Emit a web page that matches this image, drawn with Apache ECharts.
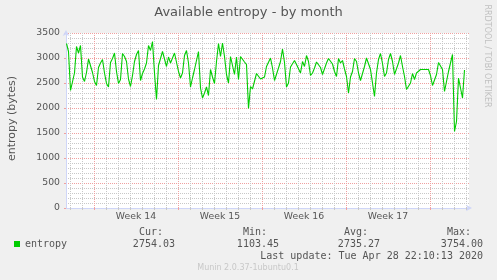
<!DOCTYPE html>
<html><head><meta charset="utf-8">
<script src="https://cdn.jsdelivr.net/npm/echarts@6/dist/echarts.min.js"></script>
<style>html,body{margin:0;padding:0;background:#F0F0F0;}#c{width:497px;height:280px;}</style>
</head><body><div id="c"></div>
<script>
const chartTitle = 'Available entropy - by month';
const yName = 'entropy (bytes)';
const seriesName = 'entropy';
const weekLabels = ['Week 14', 'Week 15', 'Week 16', 'Week 17'];
const weekStarts = [0, 168, 336, 504, 672];        // hours since Mon 30 Mar 00:00
const axisMinHour = -56, axisMaxHour = 750;
const dataStartHour = -55, stepHours = 4;          // one sample every 4 hours
const yMin = 0, yMax = 3500, yStep = 500;
const entropyPart1 = [
 3290,3130,2350,2350,2700,3230,3100,3250,2620,2530,
 2710,2980,2940,2710,2530,2450,2810,2900,2970,2700,
 2490,2420,2910,2990,3100,2730,2490,2570,3090,3030,
 2930,2580,2430,2650,2930,3070,3150,2550,2690,2780,
 2900,3250,3150,3330,2700,2170,2850,2810,3130,3150,
 2830,3020,2900,2930,3100,3140,2730,2600,2700,3050,
 3150,2900,2420,2600,2770,2730,3130,2400,2200,2300,
 2420,2250,2770,2620,2490,2930,3290,3030,3300,3030,
 2670,2500,3030,3020,2670,3020,2570,3030,3070,2920,
 2870,1990
];
const entropyPart2 = [
 2430,2380,2350,2690,2730,2580,2570,2620,2830,2830,
 3000,2800,2550,2510,2800,2930,3180,2910,2420,2500,
 2820,2820,2950,2870,2830,2700,2930,2830,3050,2930,
 2650,2700,2800,2920,2910,2810,2670,2650,2900,2990,
 2980,2880,2730,2630,2990,2900,2950,2780,2630,2300,
 2620,2730,2990,2930,2700,2550,2690,2830,3000,3000,
 2770,2500,2230,2700,2970,3090,2890,2630,2700,2970,
 3090,2930,2670,2630,2900,3050,2830,2630,2370,2370,
 2500,2690,2570,2700,2700,2770,2770,2770,2800,2770,
 2650,2450,2420,2670,2910,2890,2770,2330,2530,2730,
 2900,3070,1530,1730,2600,2600,2200,2760
];
const statLabels = ['Cur:', 'Min:', 'Avg:', 'Max:'];
const statValues = ['2754.03', '1103.45', '2735.27', '3754.00'];
const lastUpdate = 'Last update: Tue Apr 28 22:10:13 2020';
const footer = 'Munin 2.0.37-1ubuntu0.1';
const watermark = 'RRDTOOL / TOBI OETIKER';

const values = entropyPart1.concat(entropyPart2);
const seriesData = values.map((v, i) => [dataStartHour + i * stepHours, v]);
const dayHours = [];
for (let h = -48; h <= axisMaxHour; h += 24) dayHours.push(h);
const weekMid = weekLabels.map((_, i) => weekStarts[i] + 84);

const FONT = '"DejaVu Sans", sans-serif';
const MONO = '"DejaVu Sans Mono", monospace';
const TXT = '#555555';
const AXIS = '#CFD6F8';
const GRAY = '#C8C8C8';
const RED = '#F0A0A0';

const statRight = [175, 279, 380, 483];
const graphics = [];
function txt(x, y, s, font, fill, align, rot) {
  const el = {type: 'text', x: x, y: y,
    style: {text: s, font: font, fill: fill, align: align, verticalAlign: 'middle', textAlign: align, textVerticalAlign: 'middle'}};
  if (rot) el.rotation = rot;
  graphics.push(el);
}
statLabels.forEach((s, i) => {
  txt(statRight[i] - 12, 232.5, s, '10px ' + MONO, TXT, 'right');
  txt(statRight[i], 244.7, statValues[i], '10px ' + MONO, TXT, 'right');
});
txt(483, 256.7, lastUpdate, '10px ' + MONO, TXT, 'right');
txt(248, 268, footer, '8px ' + FONT, '#C8C8C8', 'center');
txt(487, 56, watermark, '8px ' + FONT, '#C0C0C0', 'center', -Math.PI / 2);
txt(12, 118.5, yName, '11px ' + FONT, TXT, 'center', Math.PI / 2);

const chart = echarts.init(document.getElementById('c'), null, {renderer: 'canvas'});
chart.setOption({
  animation: false,
  backgroundColor: '#F0F0F0',
  title: {text: chartTitle, left: 'center', top: 6, padding: 0,
    textStyle: {fontFamily: FONT, fontSize: 13, fontWeight: 'normal', color: TXT, lineHeight: 14}},
  legend: {data: [seriesName], left: 14, top: 239, padding: 0, icon: 'rect', itemWidth: 6, itemHeight: 6,
    textStyle: {fontFamily: MONO, fontSize: 10, color: TXT}},
  grid: {left: 66, right: 28, top: 33, bottom: 72, show: true, backgroundColor: '#FFFFFF', borderWidth: 0},
  xAxis: [
    {type: 'value', position: 'bottom', offset: 0, min: axisMinHour, max: axisMaxHour,
      axisLine: {show: true, onZero: false, lineStyle: {color: AXIS, width: 1}, symbol: ['none', 'arrow'], symbolSize: [5, 6], symbolOffset: [0, 3]},
      axisTick: {show: true, length: 2, customValues: dayHours, lineStyle: {color: GRAY}},
      axisLabel: {show: false},
      splitLine: {show: true, lineStyle: {color: GRAY, width: 1, type: [1, 1]}}},
    {type: 'value', position: 'bottom', offset: 0, min: axisMinHour, max: axisMaxHour,
      axisLine: {show: false, onZero: false},
      axisTick: {show: true, length: 2, customValues: weekStarts, lineStyle: {color: RED}},
      axisLabel: {show: false},
      splitLine: {show: true, lineStyle: {color: RED, width: 1, type: [1, 1]}}},
    {type: 'value', position: 'bottom', offset: 0, min: axisMinHour, max: axisMaxHour,
      axisLine: {show: false, onZero: false},
      axisTick: {show: false, customValues: weekMid},
      axisLabel: {show: true, customValues: weekMid, margin: 4, color: TXT, fontFamily: FONT, fontSize: 9.3,
        formatter: (v) => weekLabels[weekMid.indexOf(v)] || ''},
      splitLine: {show: false}}
  ],
  yAxis: {type: 'value', position: 'left', min: yMin, max: yMax, interval: yStep,
    axisLine: {show: true, onZero: false, lineStyle: {color: AXIS, width: 1}, symbol: ['none', 'arrow'], symbolSize: [5, 6], symbolOffset: [0, 3]},
    axisTick: {show: true, length: 2, lineStyle: {color: RED}},
    minorTick: {show: false, splitNumber: 5},
    axisLabel: {margin: 6, color: TXT, fontFamily: FONT, fontSize: 9.3, formatter: (v) => String(v)},
    splitLine: {show: true, lineStyle: {color: RED, width: 1, type: [1, 1]}},
    minorSplitLine: {show: true, lineStyle: {color: GRAY, width: 1, type: [1, 1]}}},
  series: [{name: seriesName, type: 'line', xAxisIndex: 0, data: seriesData, showSymbol: false, symbol: 'none',
    color: '#00CC00', itemStyle: {color: '#00CC00'}, lineStyle: {color: '#00CC00', width: 1.1}, z: 5}],
  graphic: graphics
});
</script></body></html>
